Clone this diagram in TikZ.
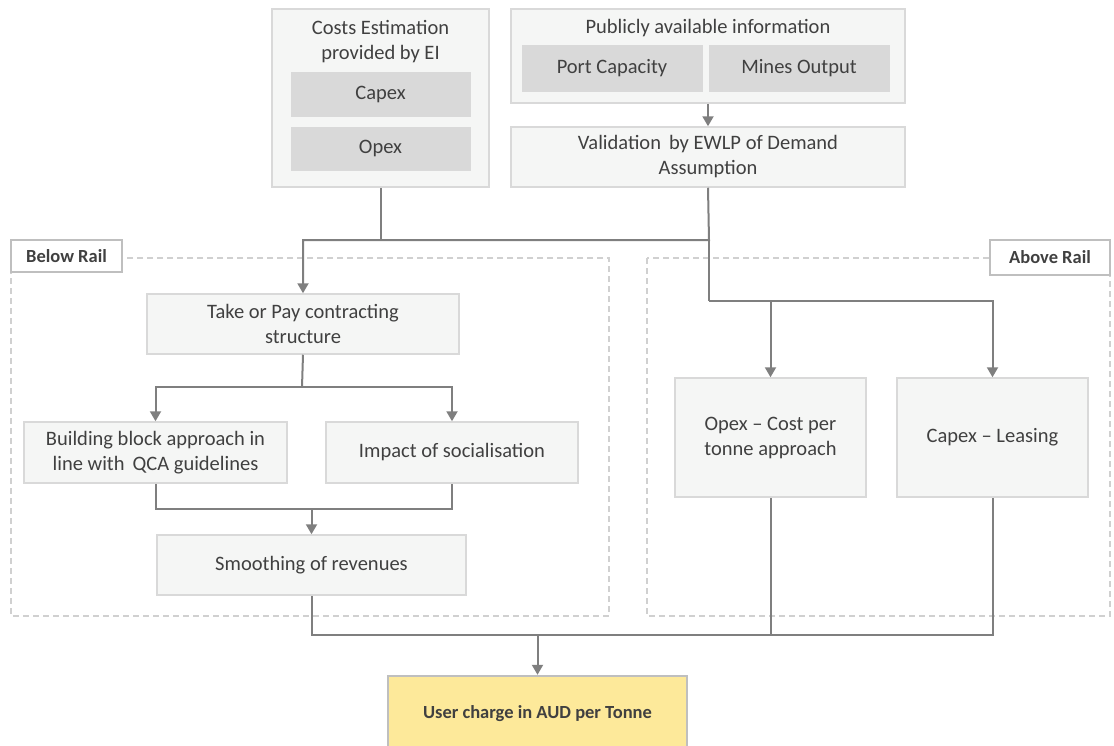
\documentclass[tikz,border=0pt]{standalone}
\usepackage{fontspec}
\setmainfont{Carlito}
\usetikzlibrary{arrows.meta}
\definecolor{boxfill}{HTML}{F5F6F5}
\definecolor{boxline}{HTML}{D9D9D9}
\definecolor{innerfill}{HTML}{D9D9D9}
\definecolor{wire}{HTML}{7F7F7F}
\definecolor{ink}{HTML}{404040}
\definecolor{grouped}{HTML}{D0D0D0}
\definecolor{tagline}{HTML}{BFBFBF}
\definecolor{result}{HTML}{FDE99A}
\tikzset{
  txt/.style={font=\fontsize{20.5}{25}\selectfont, text=ink, align=center, inner sep=0pt},
  panel/.style={draw=boxline, line width=1.5pt, fill=boxfill, inner sep=0pt},
  stepbox/.style={panel, txt},
  subbox/.style={fill=innerfill, draw=innerfill, line width=0.8pt, txt},
  grouparea/.style={draw=grouped, line width=1.2pt, dash pattern=on 6pt off 4pt},
  tagbox/.style={draw=tagline, line width=2.4pt, fill=white, font=\bfseries\fontsize{18.5}{22}\selectfont, text=ink, inner sep=0pt},
  link/.style={draw=wire, line width=2pt},
  flow/.style={link, -{Triangle[width=11pt,length=10pt]}},
}
\begin{document}
\begin{tikzpicture}[x=1pt,y=-1pt]
\useasboundingbox (0,0) rectangle (1114,745);

% grouping areas
\draw[grouparea] (11,258) rectangle (609,616);
\draw[grouparea] (647,258) rectangle (1110,616);
\node[tagbox, minimum width=111pt, minimum height=32pt] (below) at (66.5,256) {Below Rail};
\node[tagbox, minimum width=120pt, minimum height=35pt] (above) at (1050,257.5) {Above Rail};

% inputs
\node[panel, minimum width=217pt, minimum height=178pt] (costs) at (380.5,98) {};
\node[txt, anchor=center] (coststitle) at (380.5,41.5) {Costs Estimation\\provided by EI};
\node[subbox, minimum width=179pt, minimum height=44pt] (capex) at (380.5,94) {Capex};
\node[subbox, minimum width=179pt, minimum height=43pt] (opex) at (380.5,148.5) {Opex};

\node[panel, minimum width=394pt, minimum height=94pt] (pub) at (708,56) {};
\node[txt] (pubtitle) at (708,28) {Publicly available information};
\node[subbox, minimum width=180pt, minimum height=46pt] (port) at (612,68) {Port Capacity};
\node[subbox, minimum width=180pt, minimum height=46pt] (mines) at (799,68) {Mines Output};

\node[stepbox, minimum width=394pt, minimum height=60pt] (val) at (708,157) {Validation \,by EWLP of Demand\\Assumption};

% below rail
\node[stepbox, minimum width=312pt, minimum height=60pt] (top) at (303,324) {Take or Pay contracting\\structure};
\node[stepbox, minimum width=263pt, minimum height=61pt] (bb) at (155.5,452.5) {Building block approach in\\line with \,QCA guidelines};
\node[stepbox, minimum width=252pt, minimum height=61pt] (imp) at (452,452.5) {Impact of socialisation};
\node[stepbox, minimum width=309pt, minimum height=60pt] (sm) at (311.5,565) {Smoothing of revenues};

% above rail
\node[stepbox, minimum width=191pt, minimum height=119pt] (opc) at (770.5,437.5) {Opex -- Cost per\\tonne approach};
\node[stepbox, minimum width=191pt, minimum height=119pt] (capl) at (992.5,437.5) {Capex -- Leasing};

% result
\node[draw=tagline, line width=2.4pt, fill=result, minimum width=299pt, minimum height=76pt,
      font=\bfseries\fontsize{18.5}{22}\selectfont, text=ink, inner sep=0pt] (uc) at (537.5,714) {User charge in AUD per Tonne};

% junction points
\coordinate (busA) at (709,240);
\coordinate (busB) at (709,301);
\coordinate (split) at (302,387);
\coordinate (merge) at (311.5,509);
\coordinate (collect) at (537.5,635);

% connectors
\draw[flow] (pub.south) -- (val.north);
\draw[link] (costs.south) -- (costs.south |- busA);
\draw[flow] (val.south) -- (busA) -| (top.north);
\draw[link] (busA) -- (busB);
\draw[flow] (busB) -| (capl.north);
\draw[flow] (opc.north |- busB) -- (opc.north);

\draw[link] (top.south) -- (split);
\draw[flow] (split) -| (bb.north);
\draw[flow] (split) -| (imp.north);
\draw[link] (bb.south) |- (merge) -| (imp.south);
\draw[flow] (merge) -- (sm.north);

\draw[link] (sm.south) |- (collect);
\draw[link] (opc.south) |- (collect);
\draw[link] (capl.south) |- (collect);
\draw[flow] (collect) -- (uc.north);
\end{tikzpicture}
\end{document}
